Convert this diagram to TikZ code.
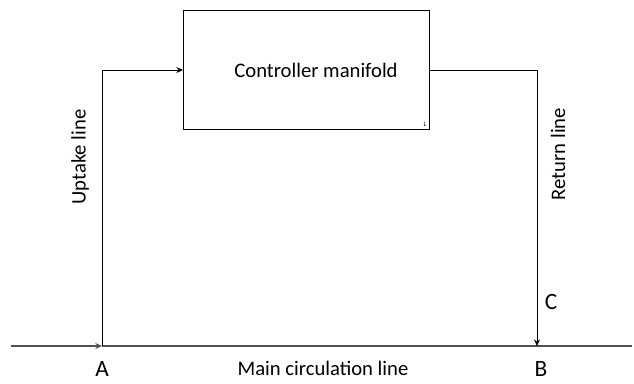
\documentclass[tikz,border=0pt]{standalone}
\usepackage{fontspec}
\setmainfont{Carlito}
\usetikzlibrary{arrows.meta, positioning}
\definecolor{linegray}{RGB}{80,80,80}

\begin{document}
\begin{tikzpicture}[x=0.75pt, y=-0.75pt,
    pipe/.style={draw=black, line width=0.6pt},
    mainpipe/.style={draw=linegray, line width=1pt},
    tip/.style={-{Stealth[length=5pt, width=4.5pt]}},
    lbl/.style={font=\fontsize{15.5}{18}\selectfont},
    letter/.style={font=\fontsize{17.5}{20}\selectfont, inner sep=0pt}]
    \useasboundingbox (0,0) rectangle (634,383);

    % manifold box
    \node[draw, line width=0.6pt, minimum width=246*0.75pt, minimum height=119*0.75pt,
          inner sep=0pt, anchor=north west] (manifold) at (183,10) {};
    \node[lbl] (title) at (316,70) {Controller manifold};
    \node[font=\fontsize{5}{6}\selectfont, anchor=south east, inner sep=1pt] (corner) at (428,128) {L};

    % points on the main line
    \coordinate (mainL) at (11,346);
    \coordinate (mainR) at (632,346);
    \coordinate (A) at (102,346);
    \coordinate (B) at (537,346);
    \coordinate (upTop) at (102,70);
    \coordinate (retTop) at (537,70);

    % main circulation line
    \draw[mainpipe, tip] (mainL) -- (A);
    \draw[mainpipe] (A) -- (mainR);

    % uptake and return
    \draw[pipe, tip] (A) -- (upTop) -- (upTop -| manifold.west);
    \draw[pipe, tip] (retTop -| manifold.east) -- (retTop) -- (B);

    % labels
    \node[lbl, rotate=90] (uptake) at (80,157) {Uptake line};
    \node[lbl, rotate=90] (return) at (558,154) {Return line};
    \node[lbl] (mainlbl) at (323,368) {Main circulation line};
    \node[letter, anchor=base] (labA) at (102,376) {A};
    \node[letter, anchor=base] (labB) at (541,376) {B};
    \node[letter, anchor=base] (labC) at (551,309) {C};
\end{tikzpicture}
\end{document}
